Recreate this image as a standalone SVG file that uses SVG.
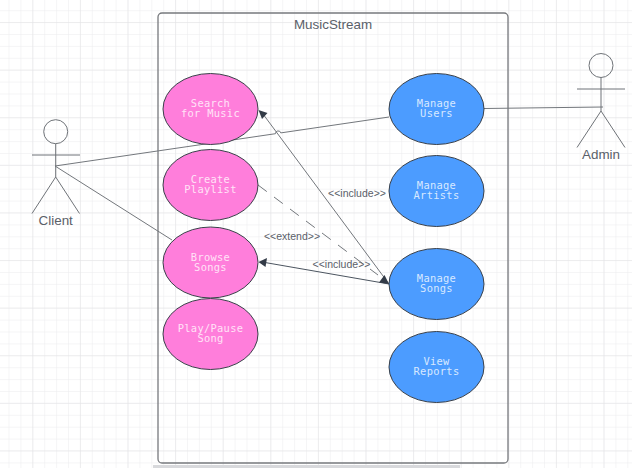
<svg xmlns="http://www.w3.org/2000/svg" width="632" height="468" viewBox="0 0 632 468">
<style>
.t{font-family:"Liberation Sans",Arial,sans-serif;fill:#5a6069}
.lbl{font-size:10.5px;text-anchor:middle}
.act{font-size:13.4px;text-anchor:middle}
.m{font-family:"DejaVu Sans Mono","Liberation Mono",monospace;font-size:10.4px;text-anchor:middle;letter-spacing:.3px}
.mp{fill:#ffe3f7}
.mb{fill:#d8e9ff}
.pink{fill:#ff7edb;stroke:#3a414a;stroke-width:1}
.blue{fill:#4c9cff;stroke:#3a414a;stroke-width:1}
.ln{fill:none;stroke:#73777c;stroke-width:1}
.stick{fill:none;stroke:#6f7378;stroke-width:1}
</style>
<defs>
<pattern id="g" width="11.9" height="11.9" patternUnits="userSpaceOnUse" x="8.5" y="10.2"><path d="M0 0H11.9M0 0V11.9" fill="none" stroke="#ececee" stroke-width="1"/></pattern>
<pattern id="G" width="47.6" height="47.6" patternUnits="userSpaceOnUse" x="32.3" y="22"><path d="M0 0H47.6M0 0V47.6" fill="none" stroke="#e4e4e6" stroke-width="1"/></pattern>
</defs>
<rect width="632" height="468" fill="#fff"/>
<rect width="632" height="468" fill="url(#g)"/>
<rect width="632" height="468" fill="url(#G)"/>
<rect x="153" y="465" width="307" height="3" fill="#d8d9dc"/>
<g id="system">
<rect x="158" y="13" width="350" height="450" rx="4" fill="none" stroke="#77797d" stroke-width="1.3"/>
<text class="t" x="333" y="29" font-size="13.4" text-anchor="middle">MusicStream</text>
</g>
<g id="connectors">
<path class="ln" d="M55 166L275.500 133.700A2.700 2.700 0 0 1 280.800 132.900L389 117"/>
<path class="ln" d="M55 166L172 240"/>
<path class="ln" d="M484 108.500L603 107"/>
<path class="ln" d="M389 284L263 114"/>
<path d="M389 284L265 262.500" fill="none" stroke="#4c5560" stroke-width="1"/>
<path class="ln" d="M258 185L378 275" stroke-dasharray="11 9"/>
<path d="M258.500 110L267.500 113L262 119Z" fill="#333b47"/>
<path d="M258.500 262L267 258L265.500 267Z" fill="#333b47"/>
<path d="M389 284L379 282.500L384.500 275Z" fill="#333b47"/>
</g>
<g id="uc-search"><ellipse class="pink" cx="210.500" cy="109" rx="47.500" ry="35.500"/><text class="m mp"><tspan x="210.500" y="107">Search</tspan><tspan x="210.500" y="117">for Music</tspan></text></g>
<g id="uc-create"><ellipse class="pink" cx="210.500" cy="185" rx="47.500" ry="35.500"/><text class="m mp"><tspan x="210.500" y="183">Create</tspan><tspan x="210.500" y="193">Playlist</tspan></text></g>
<g id="uc-browse"><ellipse class="pink" cx="210.500" cy="262.500" rx="47.500" ry="35.500"/><text class="m mp"><tspan x="210.500" y="260.500">Browse</tspan><tspan x="210.500" y="270.500">Songs</tspan></text></g>
<g id="uc-play"><ellipse class="pink" cx="210.500" cy="334" rx="47.500" ry="35.500"/><text class="m mp"><tspan x="210.500" y="332">Play/Pause</tspan><tspan x="210.500" y="342">Song</tspan></text></g>
<g id="uc-users"><ellipse class="blue" cx="436.500" cy="109" rx="47.500" ry="35.500"/><text class="m mb"><tspan x="436.500" y="107">Manage</tspan><tspan x="436.500" y="117">Users</tspan></text></g>
<g id="uc-artists"><ellipse class="blue" cx="436.500" cy="191" rx="47.500" ry="35.500"/><text class="m mb"><tspan x="436.500" y="189">Manage</tspan><tspan x="436.500" y="199">Artists</tspan></text></g>
<g id="uc-songs"><ellipse class="blue" cx="436.500" cy="284" rx="47.500" ry="35.500"/><text class="m mb"><tspan x="436.500" y="282">Manage</tspan><tspan x="436.500" y="292">Songs</tspan></text></g>
<g id="uc-reports"><ellipse class="blue" cx="436.500" cy="367" rx="47.500" ry="35.500"/><text class="m mb"><tspan x="436.500" y="365">View</tspan><tspan x="436.500" y="375">Reports</tspan></text></g>
<g id="labels">
<text class="t lbl" x="357" y="197">&lt;&lt;include&gt;&gt;</text>
<text class="t lbl" x="292" y="240">&lt;&lt;extend&gt;&gt;</text>
<text class="t lbl" x="341.500" y="268">&lt;&lt;include&gt;&gt;</text>
</g>
<g id="actor-client">
<circle class="stick" cx="55.700" cy="131.700" r="12"/>
<path class="stick" d="M55.700 143.700V177M32 155H80M55.700 177L32 213.500M55.700 177L79.500 213.500"/>
<text class="t act" x="55.700" y="225">Client</text>
</g>
<g id="actor-admin">
<circle class="stick" cx="601" cy="65.500" r="12"/>
<path class="stick" d="M601 77.500V111M577 89H625M601 111L577 147.500M601 111L625 147.500"/>
<text class="t act" x="601" y="159">Admin</text>
</g>
</svg>
